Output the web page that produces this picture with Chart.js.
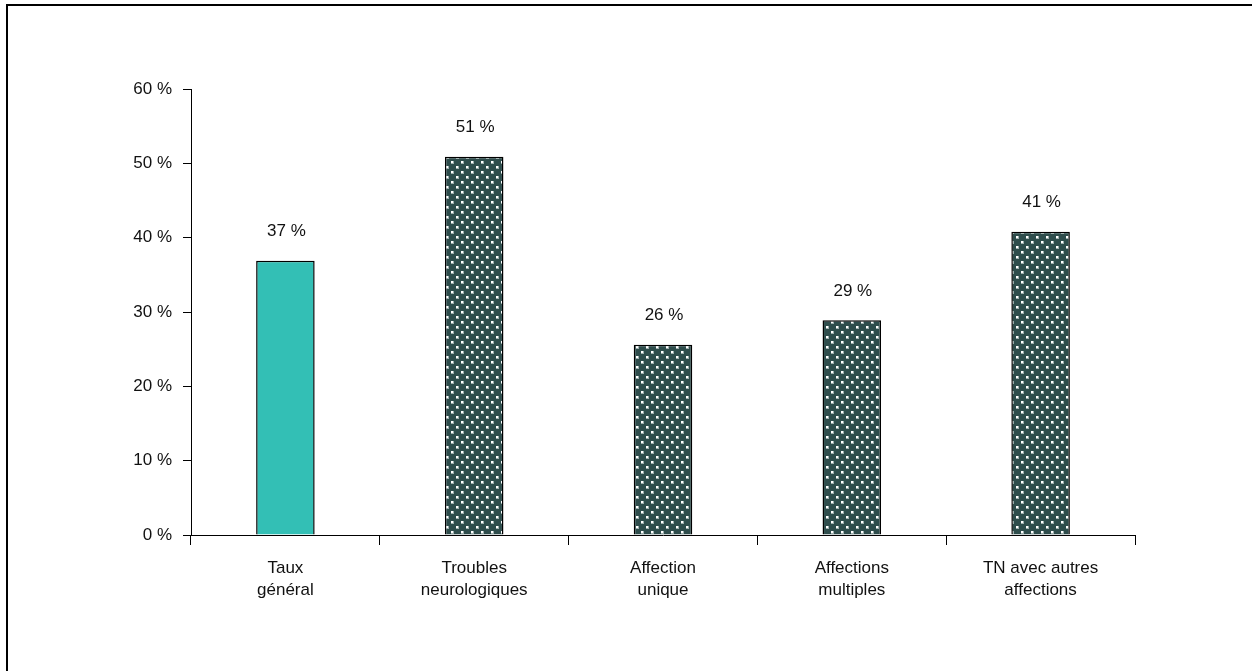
<!DOCTYPE html>
<html>
<head>
<meta charset="utf-8">
<script src="https://cdn.jsdelivr.net/npm/chart.js@4"></script>
<style>
  html, body { margin: 0; padding: 0; background: #fff; overflow: hidden; }
  #frame { position: absolute; left: 6px; top: 4px; width: 1300px; height: 720px;
           border-left: 2px solid #000; border-top: 2px solid #000; }
  #wrap { position: absolute; left: 0; top: 0; width: 1252px; height: 671px; }
</style>
</head>
<body>
<div id="frame"></div>
<div id="wrap"><canvas id="barChart"></canvas></div>
<script>
// Data
const categories = [
    ['Taux', 'général'],
    ['Troubles', 'neurologiques'],
    ['Affection', 'unique'],
    ['Affections', 'multiples'],
    ['TN avec autres', 'affections']
];
const values = [36.9, 50.9, 25.6, 28.9, 40.8];
const valueLabels = ['37 %', '51 %', '26 %', '29 %', '41 %'];
const yTicks = [0, 10, 20, 30, 40, 50, 60];

const FONT = '"Liberation Sans", Arial, sans-serif';

// Dotted fill for the breakdown bars
function makeDotPattern() {
    const c = document.createElement('canvas');
    c.width = 10;
    c.height = 10;
    const g = c.getContext('2d');
    g.fillStyle = '#2e4d4c';
    g.fillRect(0, 0, 10, 10);
    [[1, 1], [6, 6]].forEach(([x, y]) => {
        g.fillStyle = '#9fb0af';
        g.fillRect(x, y, 3, 3);
        g.fillStyle = '#ffffff';
        g.fillRect(x, y, 2, 2);
    });
    return g.createPattern(c, 'repeat');
}

const dots = makeDotPattern();
const barColors = values.map((v, i) => i === 0 ? '#33bfb5' : dots);

// Draw value labels above bars
const valueLabelPlugin = {
    id: 'valueLabels',
    afterDatasetsDraw(chart) {
        const ctx = chart.ctx;
        const meta = chart.getDatasetMeta(0);
        ctx.save();
        ctx.font = '17px ' + FONT;
        ctx.fillStyle = '#111';
        ctx.textAlign = 'center';
        ctx.textBaseline = 'middle';
        meta.data.forEach((bar, i) => {
            ctx.fillText(valueLabels[i], bar.x + 1, bar.y - 29);
        });
        ctx.restore();
    }
};

const ctx = document.getElementById('barChart').getContext('2d');
const barChart = new Chart(ctx, {
    type: 'bar',
    data: {
        labels: categories,
        datasets: [{
            data: values,
            backgroundColor: barColors,
            borderColor: '#000',
            borderWidth: 1.5,
            categoryPercentage: 1,
            barPercentage: 0.31
        }]
    },
    options: {
        responsive: true,
        maintainAspectRatio: false,
        animation: false,
        layout: {
            padding: { left: 0, top: 89, right: 117, bottom: 36 }
        },
        plugins: {
            legend: { display: false },
            tooltip: { enabled: false }
        },
        scales: {
            x: {
                offset: true,
                afterFit: s => { s.height = 100; },
                grid: {
                    offset: true,
                    drawOnChartArea: false,
                    drawTicks: true,
                    tickLength: 10,
                    color: '#000'
                },
                border: { display: true, color: '#000', width: 1 },
                ticks: {
                    color: '#111',
                    padding: 12,
                    maxRotation: 0,
                    font: { family: FONT, size: 17, lineHeight: 1.3 }
                }
            },
            y: {
                min: 0,
                max: 60,
                afterFit: s => { s.width = 191; },
                afterBuildTicks: s => { s.ticks = yTicks.map(v => ({ value: v })); },
                grid: {
                    drawOnChartArea: false,
                    drawTicks: true,
                    tickLength: 8,
                    color: '#000'
                },
                border: { display: true, color: '#000', width: 1 },
                ticks: {
                    color: '#111',
                    padding: 11,
                    callback: v => v + ' %',
                    font: { family: FONT, size: 17 }
                }
            }
        }
    },
    plugins: [valueLabelPlugin]
});
</script>
</body>
</html>
